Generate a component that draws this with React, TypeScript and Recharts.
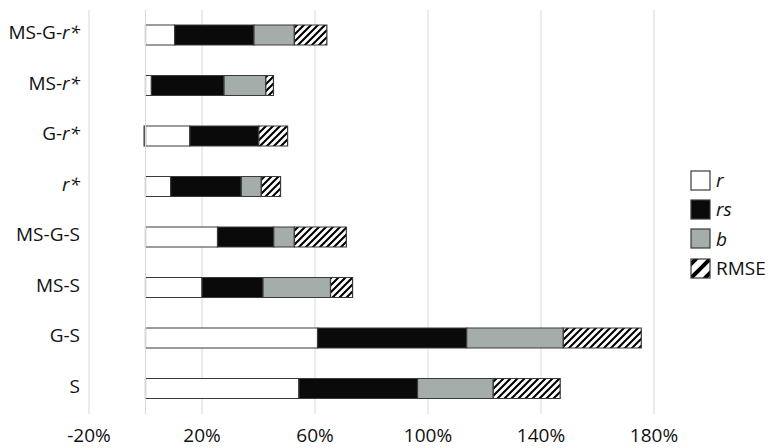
import { BarChart, Bar, XAxis, YAxis, CartesianGrid, Legend, ReferenceLine } from 'recharts';

const categories = ['MS-G-r*', 'MS-r*', 'G-r*', 'r*', 'MS-G-S', 'MS-S', 'G-S', 'S'];
const rValues = [10.3, 2.1, 15.7, 8.9, 25.5, 20.0, 60.9, 54.3];
const rsValues = [28.1, 25.7, 24.4, 25.0, 19.9, 21.6, 52.8, 42.0];
const bValues = [14.3, 14.8, -0.5, 7.1, 7.3, 23.9, 34.2, 26.8];
const rmseValues = [11.5, 2.7, 10.2, 6.8, 18.4, 7.8, 27.6, 23.7];
const xTicks = [-20, 20, 60, 100, 140, 180];

const data = categories.map((name, i) => ({
  name,
  r: rValues[i],
  rs: rsValues[i],
  b: bValues[i],
  RMSE: rmseValues[i],
}));

const FONT = '"Open Sans", sans-serif';
const EDGE = '#3a3a3a';

const legendItems = [
  { key: 'r', label: 'r', fill: '#ffffff', italic: true },
  { key: 'rs', label: 'rs', fill: '#0a0a0a', italic: true },
  { key: 'b', label: 'b', fill: '#a4adaa', italic: true },
  { key: 'RMSE', label: 'RMSE', fill: 'url(#hatchLegend)', italic: false },
];

const CategoryTick = (props: any) => {
  const { x, y, payload } = props;
  const label: string = payload.value;
  const idx = label.indexOf('r*');
  const head = idx >= 0 ? label.slice(0, idx) : label;
  const tail = idx >= 0 ? label.slice(idx) : '';
  return (
    <text x={x} y={y} dy={4} textAnchor="end" fill="#111" fontSize={19} fontFamily={FONT}>
      {head && <tspan>{head}</tspan>}
      {tail && <tspan fontStyle="italic">{tail}</tspan>}
    </text>
  );
};

const LegendBox = () => (
  <div style={{ fontFamily: FONT, fontSize: 19, color: '#111' }}>
    {legendItems.map((it) => (
      <div key={it.key} style={{ display: 'flex', alignItems: 'center', height: 29.3 }}>
        <svg width={22} height={22} style={{ marginRight: 4 }}>
          <defs>
            <pattern id="hatchLegend" patternUnits="userSpaceOnUse" width={14} height={14} patternTransform="translate(7,0)">
              <rect width={14} height={14} fill="#fff" />
              <path d="M0,14 L14,0 M-3.5,3.5 L3.5,-3.5 M10.5,17.5 L17.5,10.5" stroke="#000" strokeWidth={4} />
            </pattern>
          </defs>
          <rect x={1} y={1} width={19} height={19} fill={it.fill} stroke={EDGE} strokeWidth={1.2} />
        </svg>
        <span style={{ fontStyle: it.italic ? 'italic' : 'normal', lineHeight: 1 }}>{it.label}</span>
      </div>
    ))}
  </div>
);

export default function App() {
  return (
    <div style={{ position: 'absolute', left: 0, top: 0, background: '#fff' }}>
      <BarChart
        width={776}
        height={448}
        data={data}
        layout="vertical"
        stackOffset="sign"
        margin={{ top: 10, right: 122, bottom: 0, left: 0 }}
        style={{ fontFamily: FONT }}
      >
        <defs>
          <pattern id="hatch" patternUnits="userSpaceOnUse" width={7} height={7}>
            <rect width={7} height={7} fill="#fff" />
            <path d="M0,7 L7,0 M-1.75,1.75 L1.75,-1.75 M5.25,8.75 L8.75,5.25" stroke="#000" strokeWidth={2.1} />
          </pattern>
        </defs>
        <CartesianGrid horizontal={false} stroke="#d9d9d9" />
        <XAxis
          type="number"
          domain={[-20, 180]}
          ticks={xTicks}
          tickFormatter={(v: number) => `${v}%`}
          axisLine={false}
          tickLine={false}
          tickMargin={9}
          height={34}
          tick={{ fill: '#111', fontSize: 19, fontFamily: FONT }}
        />
        <YAxis
          type="category"
          dataKey="name"
          width={89}
          axisLine={false}
          tickLine={false}
          tickMargin={3}
          tick={<CategoryTick />}
        />
        <ReferenceLine x={0} stroke="#d9d9d9" />
        <Bar dataKey="r" stackId="a" fill="#ffffff" stroke={EDGE} strokeWidth={1.2} barSize={20} isAnimationActive={false} />
        <Bar dataKey="rs" stackId="a" fill="#0a0a0a" stroke={EDGE} strokeWidth={1.2} barSize={20} isAnimationActive={false} />
        <Bar dataKey="b" stackId="a" fill="#a4adaa" stroke={EDGE} strokeWidth={1.2} barSize={20} isAnimationActive={false} />
        <Bar dataKey="RMSE" stackId="a" fill="url(#hatch)" stroke={EDGE} strokeWidth={1.2} barSize={20} isAnimationActive={false} />
        <Legend
          layout="vertical"
          align="center"
          verticalAlign="middle"
          content={<LegendBox />}
          wrapperStyle={{ left: 690, top: 166, width: 'auto' }}
        />
      </BarChart>
    </div>
  );
}
